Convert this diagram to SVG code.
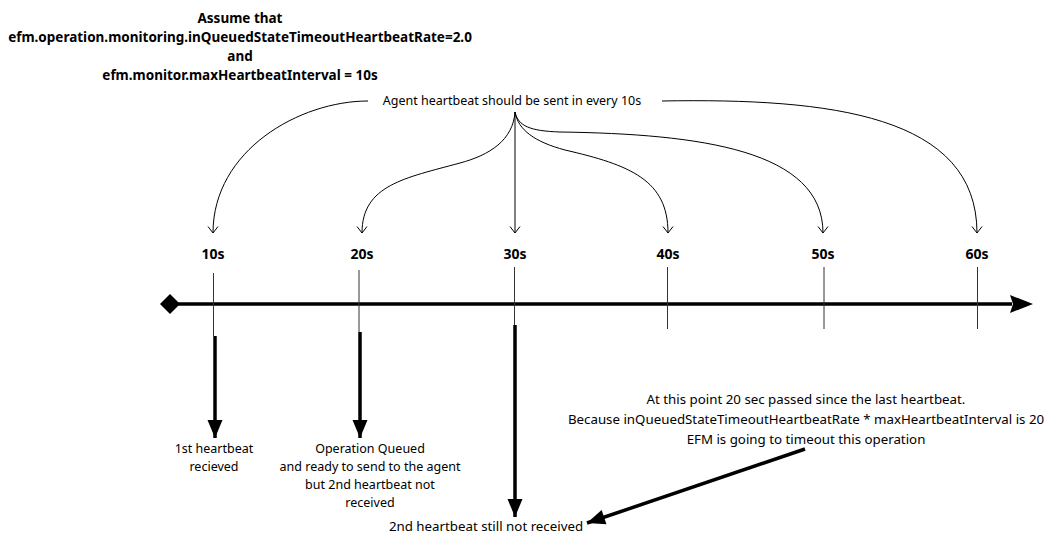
<svg xmlns="http://www.w3.org/2000/svg" width="1045" height="535" viewBox="0 0 1045 535">
<style>
text{font-family:"Noto Sans","Open Sans","DejaVu Sans",sans-serif;fill:#000}
.title{font-size:13.5px;font-weight:bold;text-anchor:middle}
.lbl{font-size:14px;font-weight:bold;text-anchor:middle}
.t{font-size:12.5px;text-anchor:middle}
.n{font-size:13.3px;text-anchor:middle}
.thin{fill:none;stroke:#000;stroke-width:1}
.thick{fill:none;stroke:#000;stroke-width:3.5}
.tick{fill:none;stroke:#333;stroke-width:1}
</style>
<defs>
<marker id="open" viewBox="-8 -6 10 12" markerWidth="10" markerHeight="12" refX="0" refY="0" orient="auto" markerUnits="userSpaceOnUse">
<polyline points="-6.5,-5 0,0 -6.5,5" fill="none" stroke="#000" stroke-width="1"/>
</marker>
<marker id="block" viewBox="-19 -8 20 16" markerWidth="20" markerHeight="16" refX="0" refY="0" orient="auto" markerUnits="userSpaceOnUse">
<polygon points="-18,-7.5 0,0 -18,7.5" fill="#000"/>
</marker>
</defs>
<rect width="1045" height="535" fill="#fff"/>
<g id="title">
<text class="title" x="240" y="23">Assume that</text>
<text class="title" x="240" y="42">efm.operation.monitoring.inQueuedStateTimeoutHeartbeatRate=2.0</text>
<text class="title" x="240" y="61">and</text>
<text class="title" x="240" y="80">efm.monitor.maxHeartbeatInterval = 10s</text>
</g>
<g id="agent-note">
<text class="t" x="512" y="105">Agent heartbeat should be sent in every 10s</text>
</g>
<g id="label-10s"><text class="lbl" x="213" y="259">10s</text></g>
<g id="label-20s"><text class="lbl" x="362" y="259">20s</text></g>
<g id="label-30s"><text class="lbl" x="515" y="259">30s</text></g>
<g id="label-40s"><text class="lbl" x="668" y="259">40s</text></g>
<g id="label-50s"><text class="lbl" x="823" y="259">50s</text></g>
<g id="label-60s"><text class="lbl" x="977" y="259">60s</text></g>
<g id="timeline">
<line x1="170" y1="304" x2="1012" y2="304" stroke="#000" stroke-width="3.5"/>
<polygon points="160,304 170,294 180,304 170,314" fill="#000"/>
<polygon points="1010,295 1033,304 1010,313 1013,304" fill="#000"/>
<line class="tick" x1="213.5" y1="273" x2="213.5" y2="336"/>
<line class="tick" x1="359" y1="270" x2="359" y2="332"/>
<line class="tick" x1="514.5" y1="267" x2="514.5" y2="325"/>
<line class="tick" x1="667.5" y1="267" x2="667.5" y2="329"/>
<line class="tick" x1="824" y1="267" x2="824" y2="329"/>
<line class="tick" x1="977.5" y1="267" x2="977.5" y2="329"/>
</g>
<g id="note-1st">
<text class="t" x="214" y="453">1st heartbeat</text>
<text class="t" x="214" y="471">recieved</text>
</g>
<g id="note-queued">
<text class="t" x="370" y="453">Operation Queued</text>
<text class="t" x="370" y="471">and ready to send to the agent</text>
<text class="t" x="370" y="489">but 2nd heartbeat not</text>
<text class="t" x="370" y="507">received</text>
</g>
<g id="note-2nd">
<text class="n" x="486" y="531">2nd heartbeat still not received</text>
</g>
<g id="note-timeout">
<text class="n" x="806" y="404">At this point 20 sec passed since the last heartbeat.</text>
<text class="n" x="806" y="424">Because inQueuedStateTimeoutHeartbeatRate * maxHeartbeatInterval is 20</text>
<text class="n" x="806" y="444">EFM is going to timeout this operation</text>
</g>
<g id="connectors">
<path class="thin" marker-end="url(#open)" d="M368,101 C300,101 213,150 213,233"/>
<path class="thin" marker-end="url(#open)" d="M515,112 C513,140 490,155 460,163 C405,178 362,185 362,233"/>
<path class="thin" marker-end="url(#open)" d="M515,112 L515,233"/>
<path class="thin" marker-end="url(#open)" d="M515,112 C518,130 535,142 565,150 C630,165 668,180 668,233"/>
<path class="thin" marker-end="url(#open)" d="M515,112 C518,126 530,131 560,132 C700,134 823,150 823,233"/>
<path class="thin" marker-end="url(#open)" d="M662,101 C830,98 977,115 977,233"/>
<path class="thick" marker-end="url(#block)" d="M215,336 L215,438"/>
<path class="thick" marker-end="url(#block)" d="M360,332 L360,438"/>
<path class="thick" marker-end="url(#block)" d="M515,325 L515,517"/>
<path class="thick" marker-end="url(#block)" d="M805,449 L587,523"/>
</g>
</svg>
